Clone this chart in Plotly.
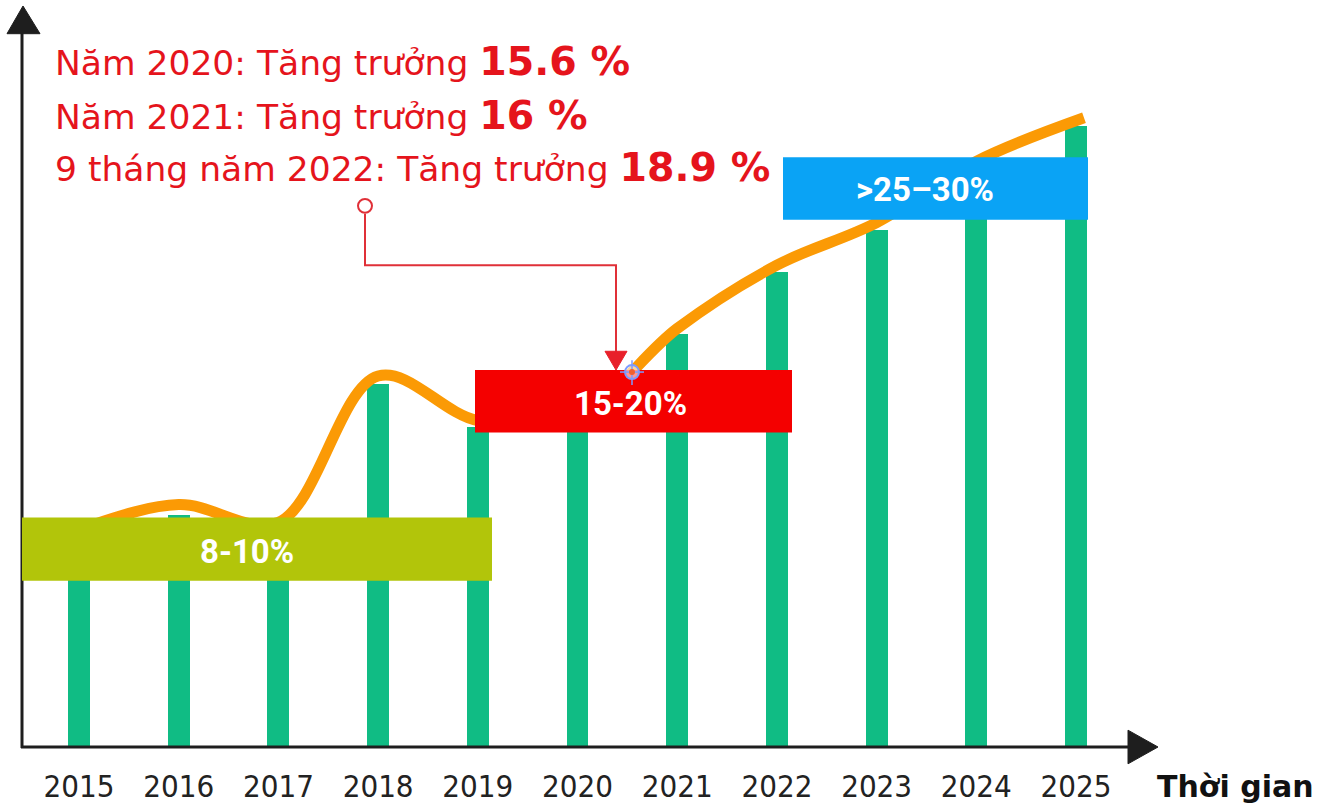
import plotly.graph_objects as go

# ---- data -------------------------------------------------------------
years = [2015, 2016, 2017, 2018, 2019, 2020, 2021, 2022, 2023, 2024, 2025]
bar_values = [21.3, 23.5, 21.8, 36.7, 32.3, 32.5, 41.7, 48.0, 52.3, 58.5, 62.8]

trend_x = [2014.43, 2015, 2016, 2017, 2018, 2019, 2020, 2021, 2022, 2023, 2024, 2025.08]
trend_y = [19.7, 22.0, 24.5, 22.7, 37.5, 33.0, 33.5, 42.3, 48.7, 53.0, 59.2, 63.6]

tick_labels = [str(y) for y in years]

band_labels = ["8-10%", "15-20%", ">25–30%"]

note_lines = [
    ("Năm 2020: Tăng trưởng ", "15.6 %"),
    ("Năm 2021: Tăng trưởng ", "16 %"),
    ("9 tháng năm 2022: Tăng trưởng ", "18.9 %"),
]
x_title = "Thời gian"

# ---- layout geometry (pixels of the 1319x809 canvas) -----------------
W, H = 1319, 809
L, R, T, B = 22, 1150, 5, 755


def px(x):
    return (x - L) / (R - L)


def py(y):
    return (B - y) / (B - T)


BAR_GREEN = "#10BC84"
ORANGE = "#FB9A05"
LIME = "#B2C50A"
RED = "#F40000"
BLUE = "#0AA3F5"
TXT_RED = "#E5141C"
DARK = "#1E1E1E"

fig = go.Figure()

fig.add_trace(go.Bar(
    x=years, y=bar_values, width=0.22,
    marker=dict(color=BAR_GREEN, line=dict(width=0)),
    hoverinfo="skip", showlegend=False,
))

fig.add_trace(go.Scatter(
    x=trend_x, y=trend_y, mode="lines",
    line=dict(color=ORANGE, width=11, shape="spline", smoothing=1.0),
    hoverinfo="skip", showlegend=False,
))

shapes = []

# axes with arrow heads
shapes.append(dict(type="line", xref="paper", yref="paper",
                   x0=px(22), x1=px(22), y0=py(756), y1=py(30),
                   line=dict(color=DARK, width=3)))
shapes.append(dict(type="path", xref="paper", yref="paper",
                   path=f"M {px(7)},{py(34)} L {px(23)},{py(6)} L {px(40)},{py(34)} Z",
                   fillcolor=DARK, line=dict(color=DARK, width=1)))
shapes.append(dict(type="line", xref="paper", yref="paper",
                   x0=px(21), x1=px(1132), y0=py(755), y1=py(755),
                   line=dict(color=DARK, width=3)))
shapes.append(dict(type="path", xref="paper", yref="paper",
                   path=f"M {px(1128)},{py(738)} L {px(1158)},{py(755)} L {px(1128)},{py(772)} Z",
                   fillcolor=DARK, line=dict(color=DARK, width=1)))

# range bands
bands = [
    (22, 492, 523, 587, LIME),
    (475, 792, 374, 437, RED),
    (783, 1088, 159, 222, BLUE),
]
for x0, x1, y0, y1, c in bands:
    shapes.append(dict(type="rect", xref="paper", yref="paper", layer="above",
                       x0=px(x0), x1=px(x1), y0=py(y1), y1=py(y0),
                       fillcolor=c, line=dict(width=0)))

# connector from the notes to the middle band
shapes.append(dict(type="path", xref="paper", yref="paper",
                   path=(f"M {px(365)},{py(216)} L {px(365)},{py(268)} "
                         f"L {px(616)},{py(268)} L {px(616)},{py(357)}"),
                   line=dict(color="#E03038", width=2)))
shapes.append(dict(type="circle", xref="paper", yref="paper",
                   x0=px(358), x1=px(372), y0=py(215), y1=py(201),
                   fillcolor="white", line=dict(color="#E03038", width=2)))
shapes.append(dict(type="path", xref="paper", yref="paper",
                   path=f"M {px(605)},{py(355)} L {px(627)},{py(355)} L {px(616)},{py(374)} Z",
                   fillcolor="#E8202A", line=dict(color="#E8202A", width=1)))

# small target marker on the trend line
shapes.append(dict(type="circle", xref="paper", yref="paper",
                   x0=px(625), x1=px(639), y0=py(383), y1=py(369),
                   fillcolor="rgba(255,255,255,0.6)", line=dict(color="#7B9BFF", width=2)))
shapes.append(dict(type="line", xref="paper", yref="paper",
                   x0=px(632), x1=px(632), y0=py(364), y1=py(389),
                   line=dict(color="#7B9BFF", width=1.5)))
shapes.append(dict(type="line", xref="paper", yref="paper",
                   x0=px(620), x1=px(644), y0=py(376), y1=py(376),
                   line=dict(color="#7B9BFF", width=1.5)))
shapes.append(dict(type="circle", xref="paper", yref="paper",
                   x0=px(629), x1=px(635), y0=py(379), y1=py(373),
                   fillcolor="#F06030", line=dict(width=0)))

annotations = []

# band labels
band_centres = [(247, 557), (630, 408), (925, 191)]
for text, (cx, cy) in zip(band_labels, band_centres):
    annotations.append(dict(
        x=px(cx), y=py(cy), xref="paper", yref="paper",
        text=f"<b>{text}</b>", showarrow=False,
        xanchor="center", yanchor="middle",
        font=dict(family="Roboto", size=33, color="white"),
    ))

# red notes
note_centres = [62, 116, 169]
for (plain, bold), cy in zip(note_lines, note_centres):
    annotations.append(dict(
        x=px(53), y=py(cy), xref="paper", yref="paper",
        text=f"{plain}<span style='font-size:39.5px'><b>{bold}</b></span>",
        showarrow=False, xanchor="left", yanchor="middle",
        font=dict(family="DejaVu Sans", size=34.5, color=TXT_RED),
    ))

annotations.append(dict(
    x=px(1155), y=py(795), xref="paper", yref="paper",
    text=f"<b>{x_title}</b>", showarrow=False,
    xanchor="left", yanchor="middle",
    font=dict(family="DejaVu Sans", size=30, color="#111111"),
))

fig.update_layout(
    width=W, height=H,
    margin=dict(l=L, r=W - R, t=T, b=H - B, pad=0),
    paper_bgcolor="white", plot_bgcolor="white",
    shapes=shapes, annotations=annotations,
    bargap=0,
    xaxis=dict(
        range=[2014.428, 2025.742], tickvals=years, ticktext=tick_labels,
        showgrid=False, zeroline=False, showline=False, ticks="",
        ticklabelstandoff=18,
        tickfont=dict(family="DejaVu Sans Condensed, Roboto, sans-serif",
                      size=31, color="#222222"),
        fixedrange=True,
    ),
    yaxis=dict(
        range=[0, 75], showgrid=False, zeroline=False, showline=False,
        showticklabels=False, ticks="", fixedrange=True,
    ),
)

fig.write_html("out.html", config={"displayModeBar": False})
